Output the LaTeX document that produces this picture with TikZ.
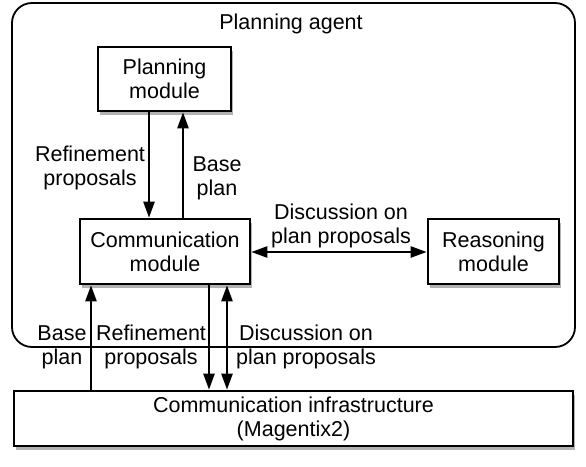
\documentclass[tikz,border=0pt]{standalone}
\usepackage{fontspec}
\setmainfont{Liberation Sans}
\usetikzlibrary{arrows.meta,shadows}
\begin{document}
\begin{tikzpicture}[x=1pt,y=-1pt,
  every node/.style={font=\fontsize{21.5}{24}\selectfont},
  box/.style={draw,line width=2.6pt,fill=white,align=center,inner sep=0pt,
    drop shadow={shadow xshift=2pt,shadow yshift=-4pt,opacity=0.3,fill=black}},
  lbl/.style={align=center,inner sep=0pt},
  arr/.style={line width=2.4pt,-{Triangle[length=16pt,width=11pt]}},
  darr/.style={line width=2.4pt,{Triangle[length=16pt,width=11pt]}-{Triangle[length=16pt,width=11pt]}}]
\useasboundingbox (0,0) rectangle (586,466);
\node[draw,line width=1.8pt,rounded corners=20pt,minimum width=563pt,minimum height=344pt,inner sep=0pt] (agent) at (293.5,175) {};
\node[lbl] (title) at (291,24) {Planning agent};
\node[box,minimum width=133pt,minimum height=64pt] (pm) at (164.5,79) {Planning\\module};
\node[box,minimum width=170pt,minimum height=65pt] (cm) at (165,251.5) {Communication\\module};
\node[box,minimum width=131pt,minimum height=65pt] (rm) at (493.5,251.5) {Reasoning\\module};
\node[box,minimum width=559pt,minimum height=55pt] (ci) at (293.5,418.5) {Communication infrastructure\\(Magentix2)};
\coordinate (xa) at (149,0);
\coordinate (xb) at (183,0);
\coordinate (xc) at (91,0);
\coordinate (xd) at (209,0);
\coordinate (xe) at (227,0);
\coordinate (yh) at (0,252);
\draw[arr] (pm.south -| xa) -- (cm.north -| xa);
\draw[arr] (cm.north -| xb) -- (pm.south -| xb);
\draw[darr] (cm.east |- yh) -- (rm.west |- yh);
\draw[arr] (ci.north -| xc) -- (cm.south -| xc);
\draw[arr] (cm.south -| xd) -- (ci.north -| xd);
\draw[darr] (cm.south -| xe) -- (ci.north -| xe);
\node[lbl] (l1) at (90,168) {Refinement\\proposals};
\node[lbl] (l2) at (217,178) {Base\\plan};
\node[lbl] (l3) at (341,226) {Discussion on\\plan proposals};
\node[lbl] (l4) at (62,347) {Base\\plan};
\node[lbl] (l5) at (151,347) {Refinement\\proposals};
\node[lbl] (l6) at (306,347) {Discussion on\\plan proposals};
\end{tikzpicture}
\end{document}
